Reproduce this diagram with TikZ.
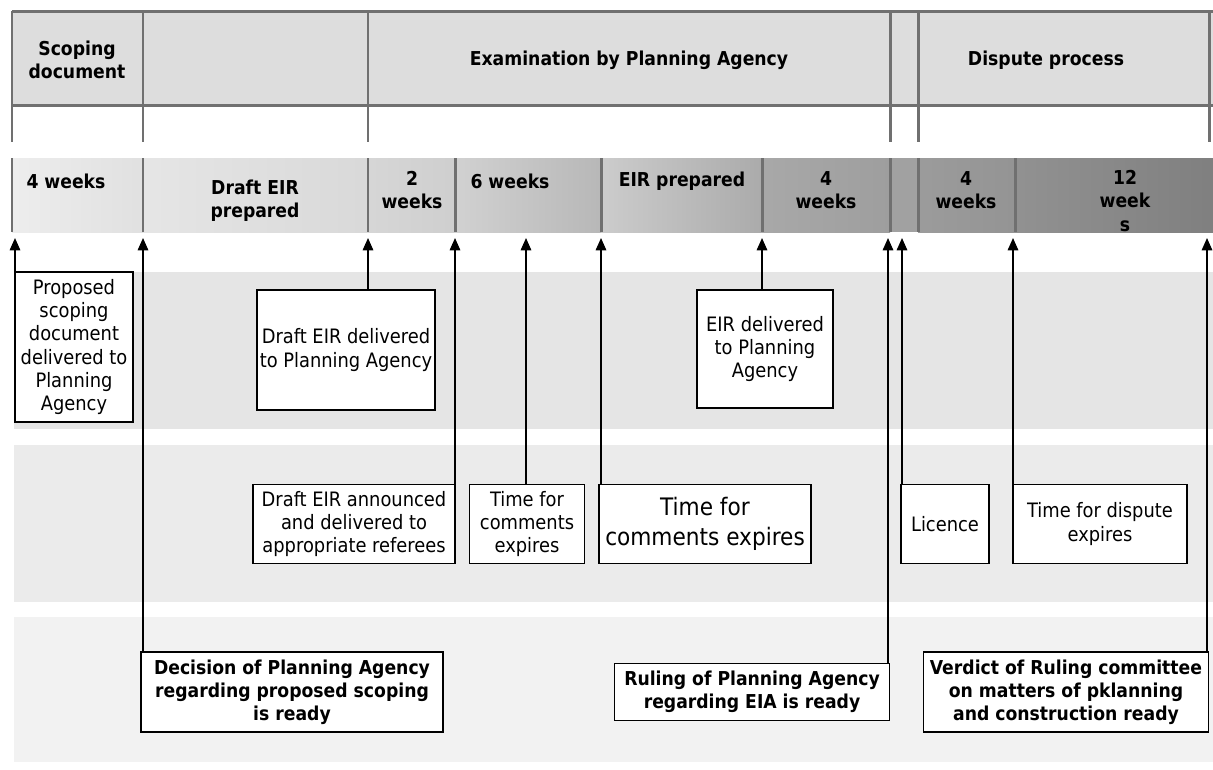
\documentclass[tikz,border=0pt]{standalone}
\usepackage{fontspec}
\setmainfont{DejaVu Sans Condensed}
\usetikzlibrary{arrows.meta}
\definecolor{framegray}{HTML}{707070}
\definecolor{headgray}{HTML}{DDDDDD}
\tikzset{
    note-box/.style = {draw=black, fill=white, thick, rectangle, align=center, inner sep=1pt, font=\fontsize{11.3}{13.3}\selectfont},
    note-box-bold/.style = {note-box, font=\fontsize{10.9}{13}\selectfont\bfseries},
    phase-title/.style = {align=center, font=\fontsize{10.9}{13.3}\selectfont\bfseries},
    frame-line/.style = {draw=framegray, line width=1.7pt},
    tick-arrow/.style = {draw=black, thick, -{Triangle[length=7pt,width=6pt]}},
}

\begin{document}
\begin{tikzpicture}[x=0.02cm, y=-0.02cm]
\useasboundingbox (0,0) rectangle (1213,769);

% background bands
\fill[fill=black!10] (14,272) rectangle (1213,429);
\fill[fill=black!8] (14,445) rectangle (1213,602);
\fill[fill=black!5] (14,617) rectangle (1213,762);

% header
\fill[headgray] (12,11) rectangle (1213,105);
\draw[frame-line] (12,11) -- (1213,11);
\draw[frame-line] (12,105) -- (1213,105);
\foreach \xx in {12,143,368,890,918,1209}
    \draw[frame-line] (\xx,11) -- (\xx,142);
\node[phase-title] (head-scoping) at (77,60) {Scoping\\document};
\node[phase-title] (head-exam) at (629,60) {Examination by Planning Agency};
\node[phase-title] (head-dispute) at (1046,60) {Dispute process};

% timeline bar
\shade[left color=black!7, right color=black!12] (12,158) rectangle (143,232);
\shade[left color=black!10, right color=black!15] (143,158) rectangle (368,232);
\shade[left color=black!16, right color=black!19] (368,158) rectangle (455,232);
\shade[left color=black!18, right color=black!28] (455,158) rectangle (601,232);
\shade[left color=black!20, right color=black!33] (601,158) rectangle (762,232);
\shade[left color=black!34, right color=black!38] (762,158) rectangle (890,232);
\fill[black!37] (890,158) rectangle (918,232);
\shade[left color=black!39, right color=black!42] (918,158) rectangle (1015,232);
\shade[left color=black!43, right color=black!50] (1015,158) rectangle (1213,232);
\foreach \xx in {12,143,368,455,601,762,890,918,1015}
    \draw[frame-line] (\xx,158) -- (\xx,232);
\node[phase-title] (seg-a) at (66,181) {4 weeks};
\node[phase-title] (seg-b) at (255,201) {Draft EIR\\prepared};
\node[phase-title] (seg-c) at (412,190) {2\\weeks};
\node[phase-title] (seg-d) at (510,181) {6 weeks};
\node[phase-title] (seg-e) at (682,181) {EIR prepared};
\node[phase-title] (seg-f) at (826,190) {4\\weeks};
\node[phase-title] (seg-g) at (966,190) {4\\weeks};
\node[phase-title] (seg-h) at (1125,201) {12\\week\\s};

% arrow tips under the bar
\foreach \nm/\xx in {a/15,b/143,c/368,d/455,e/526,f/601,g/762,h/888,i/902,j/1013,k/1207}
    \coordinate (tip-\nm) at (\xx,238);

% events
\node[note-box, minimum width=2.36cm, minimum height=3cm] (proposed) at (74,347) {Proposed\\scoping\\document\\delivered to\\Planning\\Agency};
\node[note-box, minimum width=3.56cm, minimum height=2.4cm] (draft-delivered) at (346,350) {Draft EIR delivered\\to Planning Agency};
\node[note-box, minimum width=2.72cm, minimum height=2.36cm] (eir-delivered) at (765,349) {EIR delivered\\to Planning\\Agency};
\node[note-box, minimum width=4.04cm, minimum height=1.58cm] (announced) at (354,524) {Draft EIR announced\\and delivered to\\appropriate referees};
\node[note-box, minimum width=2.3cm, minimum height=1.58cm] (comments-a) at (527,524) {Time for\\comments\\expires};
\node[note-box, minimum width=4.24cm, minimum height=1.58cm, font=\fontsize{13.7}{17}\selectfont] (comments-b) at (705,524) {Time for\\comments expires};
\node[note-box, minimum width=1.76cm, minimum height=1.58cm] (licence) at (945,524) {Licence};
\node[note-box, minimum width=3.48cm, minimum height=1.58cm] (dispute-expires) at (1100,524) {Time for dispute\\expires};
\node[note-box-bold, minimum width=6.04cm, minimum height=1.6cm] (decision) at (292,692) {Decision of Planning Agency\\regarding proposed scoping\\is ready};
\node[note-box-bold, minimum width=5.5cm, minimum height=1.14cm] (ruling) at (752,692) {Ruling of Planning Agency\\regarding EIA is ready};
\node[note-box-bold, minimum width=5.7cm, minimum height=1.6cm] (verdict) at (1066,692) {Verdict of Ruling committee\\on matters of pklanning\\and construction ready};

\draw[tick-arrow] (proposed.north -| tip-a) -- (tip-a);
\draw[tick-arrow] (decision.north -| tip-b) -- (tip-b);
\draw[tick-arrow] (draft-delivered.north -| tip-c) -- (tip-c);
\draw[tick-arrow] (announced.north -| tip-d) -- (tip-d);
\draw[tick-arrow] (comments-a.north -| tip-e) -- (tip-e);
\draw[tick-arrow] (comments-b.north -| tip-f) -- (tip-f);
\draw[tick-arrow] (eir-delivered.north -| tip-g) -- (tip-g);
\draw[tick-arrow] (ruling.north -| tip-h) -- (tip-h);
\draw[tick-arrow] (licence.north -| tip-i) -- (tip-i);
\draw[tick-arrow] (dispute-expires.north -| tip-j) -- (tip-j);
\draw[tick-arrow] (verdict.north -| tip-k) -- (tip-k);
\end{tikzpicture}
\end{document}
